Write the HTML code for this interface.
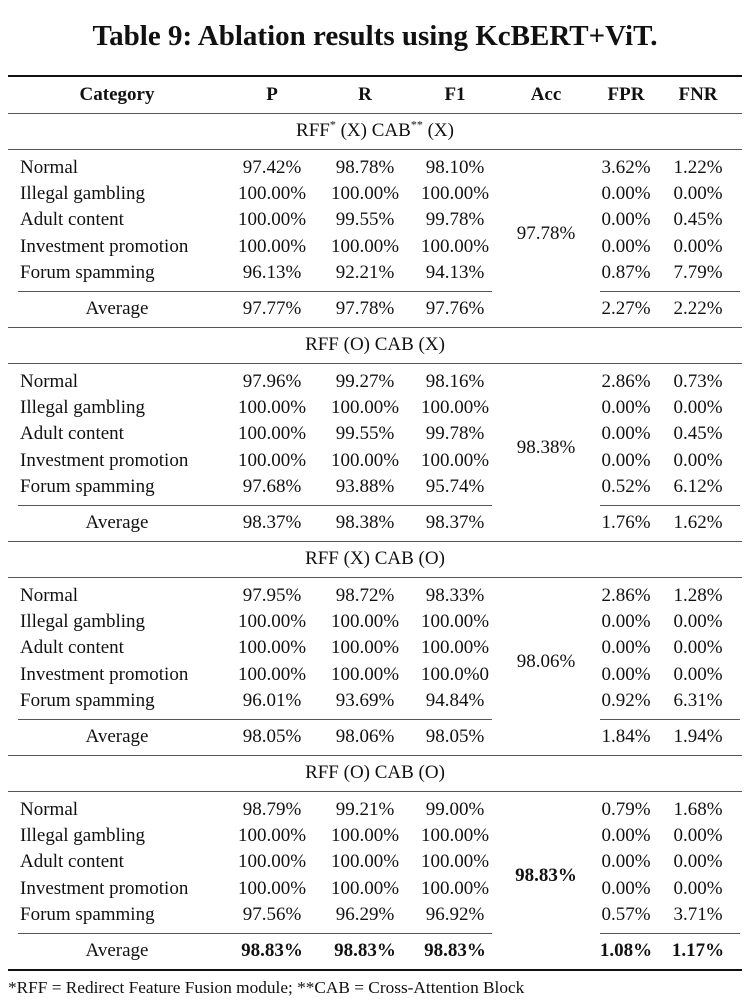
<!DOCTYPE html>
<html><head><meta charset="utf-8"><style>
body{margin:0;width:751px;height:1006px;background:#fff;position:relative;overflow:hidden;font-family:"Liberation Serif",serif;color:#111}
.t{position:absolute;height:26px;line-height:26px;font-size:19px;white-space:nowrap}
.c{transform:translateX(-50%)}
.r{position:absolute;height:1px;background:#555}
.b{font-weight:bold}
sup{font-size:12px;line-height:0}
</style></head><body>
<div class="t c b" style="left:375px;top:18px;font-size:29px;height:36px;line-height:36px">Table 9: Ablation results using KcBERT+ViT.</div>
<div id="tbl"></div>
<div class="t" style="left:8px;top:975px;font-size:17.3px">*RFF = Redirect Feature Fusion module; **CAB = Cross-Attention Block</div>
<script>
const tbl=document.getElementById('tbl');
const cats=['Normal','Illegal gambling','Adult content','Investment promotion','Forum spamming'];
const colX=[272,365,455,626,698];
const sections=[
{h:'RFF<sup>*</sup> (X) CAB<sup>**</sup> (X)',acc:'97.78%',rows:[['97.42%','98.78%','98.10%','3.62%','1.22%'],['100.00%','100.00%','100.00%','0.00%','0.00%'],['100.00%','99.55%','99.78%','0.00%','0.45%'],['100.00%','100.00%','100.00%','0.00%','0.00%'],['96.13%','92.21%','94.13%','0.87%','7.79%']],avg:['97.77%','97.78%','97.76%','2.27%','2.22%']},
{h:'RFF (O) CAB (X)',acc:'98.38%',rows:[['97.96%','99.27%','98.16%','2.86%','0.73%'],['100.00%','100.00%','100.00%','0.00%','0.00%'],['100.00%','99.55%','99.78%','0.00%','0.45%'],['100.00%','100.00%','100.00%','0.00%','0.00%'],['97.68%','93.88%','95.74%','0.52%','6.12%']],avg:['98.37%','98.38%','98.37%','1.76%','1.62%']},
{h:'RFF (X) CAB (O)',acc:'98.06%',rows:[['97.95%','98.72%','98.33%','2.86%','1.28%'],['100.00%','100.00%','100.00%','0.00%','0.00%'],['100.00%','100.00%','100.00%','0.00%','0.00%'],['100.00%','100.00%','100.0%0','0.00%','0.00%'],['96.01%','93.69%','94.84%','0.92%','6.31%']],avg:['98.05%','98.06%','98.05%','1.84%','1.94%']},
{h:'RFF (O) CAB (O)',acc:'98.83%',bold:true,rows:[['98.79%','99.21%','99.00%','0.79%','1.68%'],['100.00%','100.00%','100.00%','0.00%','0.00%'],['100.00%','100.00%','100.00%','0.00%','0.00%'],['100.00%','100.00%','100.00%','0.00%','0.00%'],['97.56%','96.29%','96.92%','0.57%','3.71%']],avg:['98.83%','98.83%','98.83%','1.08%','1.17%']}
];
function txt(s,x,y,center,bold,name,html){const d=document.createElement('div');d.className='t'+(center?' c':'')+(bold?' b':'');d.style.left=x+'px';d.style.top=(y-13)+'px';if(html)d.innerHTML=s;else d.textContent=s;


tbl.appendChild(d);}
function rule(x1,x2,y,h,name,col){const d=document.createElement('div');d.className='r';d.style.left=x1+'px';d.style.width=(x2-x1)+'px';d.style.top=y+'px';d.style.height=(h||1)+'px';if(col)d.style.background=col;


tbl.appendChild(d);}
rule(8,742,75,2,'top-rule','#111');
const hdr=['P','R','F1','FPR','FNR'];
txt('Category',117,95,true,true,'header-category');
hdr.forEach((h,i)=>txt(h,colX[i],95,true,true,'header-'+h.toLowerCase()));
txt('Acc',546,95,true,true,'header-acc');
rule(8,742,113,1,'header-rule');
let y0=113;
sections.forEach((s,si)=>{
  txt(s.h,375,y0+18,true,false,'section-title-'+(si+1),true);
  rule(8,742,y0+36,1,'section-rule');
  s.rows.forEach((r,ri)=>{const y=y0+55+ri*26.2;
    txt(cats[ri],20,y,false,false,'row-label');
    r.forEach((v,ci)=>txt(v,colX[ci],y,true,false,'cell-value'));});
  txt(s.acc,546,y0+121,true,!!s.bold,'acc-value-'+(si+1));
  rule(18,492,y0+178,1,'avg-rule-left');
  rule(600,740,y0+178,1,'avg-rule-right');
  txt('Average',117,y0+196,true,false,'average-label');
  s.avg.forEach((v,ci)=>txt(v,colX[ci],y0+196,true,!!s.bold,'average-value'));
  if(si<3) rule(8,742,y0+214,1,'section-end-rule');
  y0+=214;
});
rule(8,742,969,2,'bottom-rule','#111');
</script>
</body></html>
